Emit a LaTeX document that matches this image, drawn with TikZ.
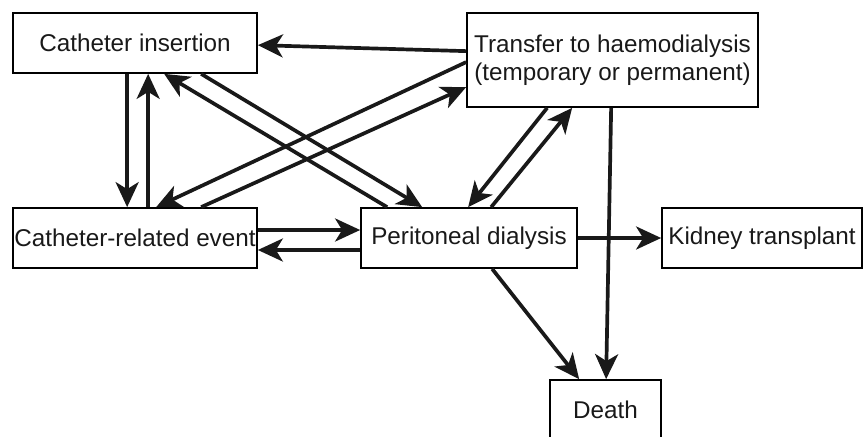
\documentclass[tikz,border=0pt]{standalone}
\usepackage{fontspec}
\setmainfont{Liberation Sans}
\usetikzlibrary{arrows.meta,calc}

\begin{document}
\begin{tikzpicture}[x=0.02cm, y=-0.02cm, >={Stealth[length=0.5cm, width=0.46cm, inset=0.14cm]}]
      \tikzstyle{state} = [draw, line width=1pt, inner sep=0pt, minimum height=1.2cm,
        font=\fontsize{13.8}{16.2}\selectfont, align=center, text=black!90]
      \tikzstyle{trans} = [->, line width=2.1pt, black!90]
      \useasboundingbox (0,0) rectangle (864,436);
      \node (insertion) [state, minimum width=4.88cm] at (135,43) {Catheter insertion};
      \node (transfer) [state, minimum width=5.82cm, minimum height=1.88cm] at (612.5,60)
        {Transfer to haemodialysis\\(temporary or permanent)};
      \node (event) [state, minimum width=4.88cm] at (135,238) {Catheter-related event};
      \node (PD) [state, minimum width=4.32cm] at (469,238) {Peritoneal dialysis};
      \node (transplant) [state, minimum width=4.0cm] at (762,238) {Kidney transplant};
      \node (death) [state, minimum width=2.22cm] at (605.5,410) {Death};
      \draw[trans] ($(transfer.north west)+(0,39)$) -- ($(insertion.north east)+(0,33)$);
      \draw[trans] ($(transfer.north west)+(0,50)$) -- ($(event.north west)+(144,0)$);
      \draw[trans] ($(event.north west)+(189,0)$) -- ($(transfer.north west)+(0,75)$);
      \draw[trans] ($(insertion.south west)+(115,0)$) -- ($(event.north west)+(115,0)$);
      \draw[trans] ($(event.north west)+(136,0)$) -- ($(insertion.south west)+(136,0)$);
      \draw[trans] ($(PD.north west)+(27,0)$) -- ($(insertion.south west)+(152,0)$);
      \draw[trans] ($(insertion.south west)+(189,0)$) -- ($(PD.north west)+(62,0)$);
      \draw[trans] ($(transfer.south west)+(81,0)$) -- ($(PD.north west)+(108,0)$);
      \draw[trans] ($(PD.north west)+(131,0)$) -- ($(transfer.south west)+(106,0)$);
      \draw[trans] ($(transfer.south west)+(145,0)$) -- ($(death.north west)+(57,0)$);
      \draw[trans] ($(PD.south west)+(132,0)$) -- ($(death.north west)+(30,0)$);
      \draw[trans] (PD.east) -- (transplant.west);
      \draw[trans] ($(event.east)+(0,-8)$) -- ($(PD.west)+(0,-8)$);
      \draw[trans] ($(PD.west)+(0,12)$) -- ($(event.east)+(0,12)$);
    \end{tikzpicture}
\end{document}
